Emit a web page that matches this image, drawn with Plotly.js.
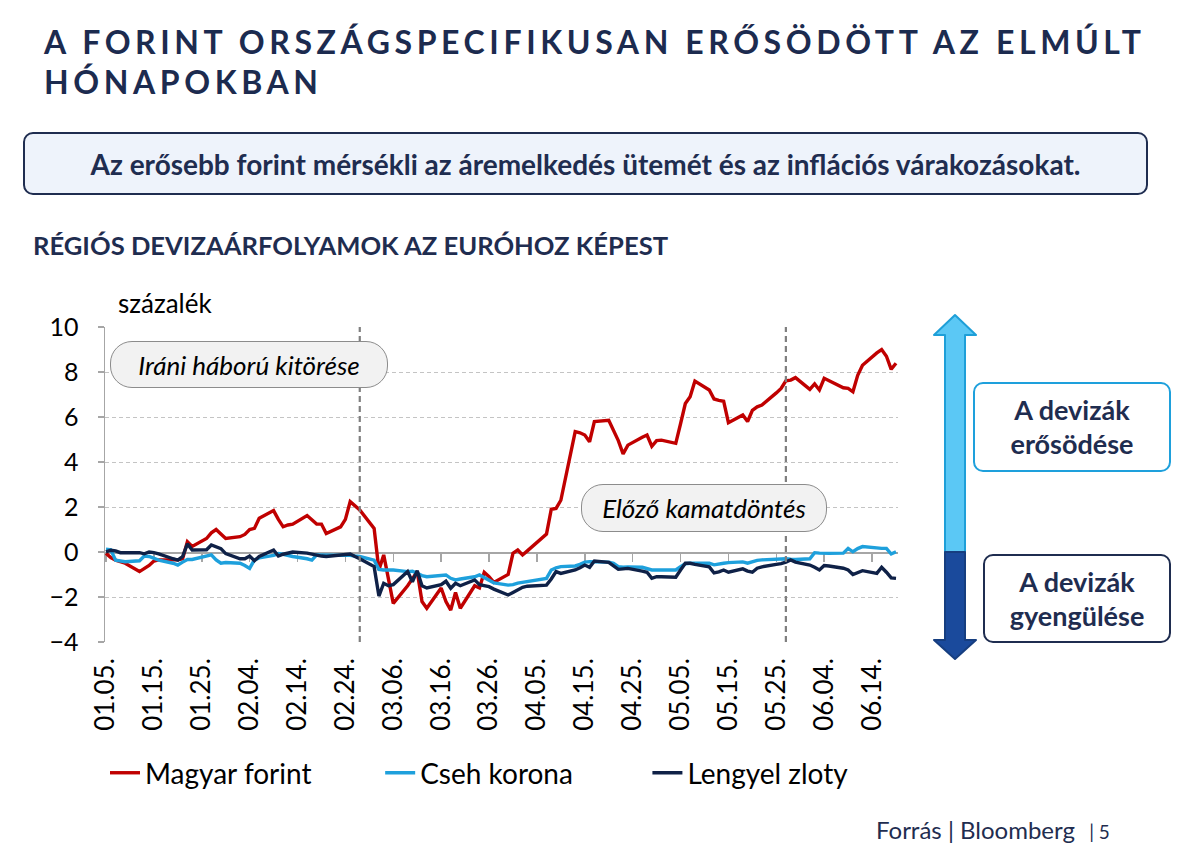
<!DOCTYPE html>
<html>
<head>
<meta charset="utf-8">
<script src="https://cdn.plot.ly/plotly-3.0.1.min.js"></script>
<style>
  html, body { margin: 0; padding: 0; background: #ffffff; }
  body { position: relative; width: 1180px; height: 865px; overflow: hidden; font-family: Lato, "Open Sans", sans-serif; }
  #chart { position: absolute; left: 0; top: 0; width: 1180px; height: 865px; }
  .ov { position: absolute; z-index: 5; box-sizing: border-box; }
  #title { left: 44px; top: 22px; font-weight: 700; font-size: 32px; letter-spacing: 4.6px; line-height: 40px; color: #1c2b4f; white-space: nowrap; }
  #lead { left: 23px; top: 132px; width: 1125px; height: 63px; border: 2px solid #1f2d50; border-radius: 10px; background: #eef3fb;
          display: flex; align-items: center; justify-content: center; font-weight: 700; font-size: 28px; color: #1f2d50; white-space: nowrap; }
  #heading { left: 33px; top: 230px; font-weight: 700; font-size: 25.6px; color: #1f2d50; white-space: nowrap; }
  #unit { left: 118px; top: 287px; font-size: 26px; color: #000; }
  .bubble { background: #f2f2f2; border: 1.5px solid #8c8c8c; border-radius: 22px; display: flex; align-items: center; justify-content: center;
            font-style: italic; font-size: 26px; color: #000; white-space: nowrap; }
  #b1 { left: 110px; top: 341px; width: 278px; height: 47px; }
  #b2 { left: 581px; top: 484px; width: 246px; height: 48px; }
  .side { background: #fff; border-radius: 10px; display: flex; align-items: center; justify-content: center; text-align: center;
          font-weight: 700; font-size: 27px; line-height: 34px; color: #1f2d50; }
  #up { left: 973px; top: 382px; width: 198px; height: 90px; border: 2.5px solid #1ea0dc; }
  #down { left: 983px; top: 554px; width: 188px; height: 89px; border: 2.5px solid #1f2d50; }
  #arrow { left: 0; top: 0; width: 1180px; height: 865px; pointer-events: none; }
  #source { left: 876px; top: 815px; font-size: 24px; color: #1f2d50; white-space: nowrap; }
  #source span { font-size: 19px; margin-left: 8px; }
</style>
</head>
<body>
<div id="chart"></div>

<div class="ov" id="title">A FORINT ORSZÁGSPECIFIKUSAN ERŐSÖDÖTT AZ ELMÚLT<br>HÓNAPOKBAN</div>
<div class="ov" id="lead">Az erősebb forint mérsékli az áremelkedés ütemét és az inflációs várakozásokat.</div>
<div class="ov" id="heading">RÉGIÓS DEVIZAÁRFOLYAMOK AZ EURÓHOZ KÉPEST</div>
<div class="ov" id="unit">százalék</div>
<div class="ov bubble" id="b1">Iráni háború kitörése</div>
<div class="ov bubble" id="b2">Előző kamatdöntés</div>

<svg class="ov" id="arrow" viewBox="0 0 1180 865">
  <polygon points="955,315 976,335 965,335 965,552 945,552 945,335 934,335" fill="#5bc8f5" stroke="#1e9fd8" stroke-width="2" stroke-linejoin="round"/>
  <polygon points="945,552 965,552 965,640 976,640 955,659 934,640 945,640" fill="#1a4a9c" stroke="#163e80" stroke-width="2" stroke-linejoin="round"/>
</svg>
<div class="ov side" id="up">A devizák<br>erősödése</div>
<div class="ov side" id="down">A devizák<br>gyengülése</div>

<div class="ov" id="source">Forrás | Bloomberg <span>| 5</span></div>

<script>
// Exchange rates of regional currencies against the euro, % change since the start of the year
// (positive = currency strengthening). Daily (business day) observations, 5 Jan – 19 Jun 2026.
const firstDay = '2026-01-05';
const numDays = 120;

const hufValues = [
  -0.06, -0.25, -0.36, -0.45, -0.5,
  -0.87, -0.72, -0.6, -0.4, -0.35,
  -0.35, -0.35, -0.3, 0.46, 0.25,
  0.6, 0.85, 1.0, 0.8, 0.6,
  0.68, 0.78, 1.0, 1.05, 1.5,
  1.84, 1.45, 1.12, 1.2, 1.24,
  1.62, 1.45, 1.24, 1.24, 0.82,
  1.12, 1.45, 2.24, 2.05, 1.87,
  1.05, -0.8, -0.13, -1.2, -2.28,
  -1.5, -1.2, -0.87, -2.2, -2.5,
  -1.6, -2.2, -2.58, -1.8, -2.5,
  -1.5, -1.6, -0.9, -1.1, -1.35,
  -1.0, -0.06, 0.09, -0.13, 0.05,
  0.62, 0.8, 1.9, 1.94, 2.3,
  5.35, 5.3, 5.2, 4.9, 5.8,
  5.85, 5.4, 4.95, 4.36, 4.75,
  5.1, 5.2, 4.7, 4.95, 4.97,
  4.83, 5.7, 6.6, 6.9, 7.6,
  7.2, 6.8, 6.74, 6.7, 5.75,
  6.09, 5.8, 6.3, 6.45, 6.53,
  7.07, 7.27, 7.61, 7.64, 7.75,
  7.23, 7.47, 7.2, 7.72, 7.62,
  7.3, 7.27, 7.12, 7.85, 8.3,
  8.85, 9.0, 8.7, 8.12, 8.39
];

const czkValues = [
  0.12, 0.1, -0.36, -0.4, -0.43,
  -0.39, -0.18, -0.2, -0.3, -0.36,
  -0.5, -0.58, -0.45, -0.33, -0.33,
  -0.2, -0.13, -0.35, -0.5, -0.47,
  -0.5, -0.6, -0.73, -0.35, -0.26,
  -0.15, -0.07, -0.1, -0.15, -0.2,
  -0.3, -0.36, -0.13, -0.13, -0.13,
  -0.13, -0.13, -0.15, -0.18, -0.2,
  -0.36, -0.77, -0.8, -0.8, -0.8,
  -0.87, -0.85, -0.95, -1.05, -1.1,
  -1.05, -1.02, -1.17, -1.24, -1.2,
  -1.1, -1.02, -1.15, -1.25, -1.37,
  -1.47, -1.45, -1.38, -1.35, -1.3,
  -1.2, -1.17, -0.8, -0.7, -0.65,
  -0.62, -0.55, -0.45, -0.43, -0.43,
  -0.45, -0.5, -0.65, -0.68, -0.66,
  -0.68, -0.75, -0.8, -0.8, -0.8,
  -0.8, -0.65, -0.52, -0.5, -0.5,
  -0.5, -0.57, -0.52, -0.5, -0.47,
  -0.44, -0.5, -0.42, -0.37, -0.35,
  -0.3, -0.28, -0.3, -0.32, -0.33,
  -0.3, -0.03, -0.05, -0.06, -0.06,
  -0.05, 0.16, 0.01, 0.15, 0.24,
  0.16, 0.16, 0.16, -0.09, 0.01
];

const plnValues = [
  0.01, 0.08, 0.05, -0.03, -0.03,
  -0.03, -0.08, 0.0, -0.03, -0.08,
  -0.3, -0.36, -0.2, 0.36, 0.09,
  0.1, 0.31, 0.22, 0.15, -0.07,
  -0.3, -0.3, -0.18, -0.39, -0.2,
  0.09, -0.18, -0.1, -0.03, 0.0,
  -0.05, -0.1, -0.15, -0.18, -0.2,
  -0.12, -0.09, -0.09, -0.2, -0.3,
  -0.65, -1.96, -1.39, -1.5, -1.45,
  -0.87, -1.32, -0.83, -1.5, -1.6,
  -1.45, -1.3, -1.61, -1.39, -1.5,
  -1.24, -1.45, -1.5, -1.54, -1.65,
  -1.91, -1.8, -1.7, -1.57, -1.52,
  -1.47, -1.47, -1.2, -0.87, -0.95,
  -0.8, -0.7, -0.58, -0.68, -0.4,
  -0.46, -0.6, -0.77, -0.75, -0.73,
  -0.85, -0.9, -1.17, -1.1, -1.1,
  -1.12, -0.8, -0.5, -0.5, -0.55,
  -0.66, -0.93, -0.88, -0.8, -0.9,
  -0.75, -0.85, -0.9, -0.72, -0.66,
  -0.55, -0.52, -0.45, -0.35, -0.45,
  -0.58, -0.68, -0.8, -0.6, -0.62,
  -0.72, -0.8, -1.0, -0.9, -0.83,
  -0.95, -0.68, -0.9, -1.15, -1.17
];

const seriesNames = ['Magyar forint', 'Cseh korona', 'Lengyel zloty'];
const seriesColors = ['#c00000', '#1ea0dc', '#0f2147'];

const tickDates = ['2026-01-05', '2026-01-15', '2026-01-25', '2026-02-04', '2026-02-14', '2026-02-24',
                   '2026-03-06', '2026-03-16', '2026-03-26', '2026-04-05', '2026-04-15', '2026-04-25',
                   '2026-05-05', '2026-05-15', '2026-05-25', '2026-06-04', '2026-06-14'];
const tickLabels = ['01.05.', '01.15.', '01.25.', '02.04.', '02.14.', '02.24.',
                    '03.06.', '03.16.', '03.26.', '04.05.', '04.15.', '04.25.',
                    '05.05.', '05.15.', '05.25.', '06.04.', '06.14.'];

// Outbreak of the Iran war and the previous rate decision
const eventDates = ['2026-02-27', '2026-05-27'];

// Business-day calendar for the observations
function businessDays(start, count) {
  const out = [];
  const d = new Date(start + 'T00:00:00Z');
  while (out.length < count) {
    const wd = d.getUTCDay();
    if (wd !== 0 && wd !== 6) out.push(d.toISOString().slice(0, 10));
    d.setUTCDate(d.getUTCDate() + 1);
  }
  return out;
}
const dates = businessDays(firstDay, numDays);

const xRange = ['2026-01-04 19:00', '2026-06-19 10:00'];
const font = 'Lato, "Open Sans", sans-serif';

// one legend per series, laid out side by side under the axis labels
const legendIds = ['legend', 'legend2', 'legend3'];
const legendX = [0, 0.347, 0.684];

const traces = [hufValues, czkValues, plnValues].map((vals, i) => ({
  type: 'scatter', mode: 'lines',
  x: dates, y: vals, name: seriesNames[i], legend: legendIds[i],
  line: { color: seriesColors[i], width: 3.4 },
  hoverinfo: 'skip'
}));
// empty companion trace so the bottom label axis has its own subplot
traces.push({ type: 'scatter', x: [], y: [], xaxis: 'x2', yaxis: 'y', showlegend: false, hoverinfo: 'skip' });

const shapes = eventDates.map(d => ({
  type: 'line', xref: 'x', yref: 'paper', x0: d, x1: d, y0: 0, y1: 1,
  line: { color: '#7f7f7f', width: 2.2, dash: '6px,4px' }, layer: 'above'
}));

const layout = {
  width: 1180, height: 865,
  margin: { l: 105, r: 282, t: 327, b: 223 },
  paper_bgcolor: '#ffffff', plot_bgcolor: '#ffffff',
  font: { family: font, color: '#000000' },
  showlegend: true,
  xaxis: {
    type: 'date', range: xRange, anchor: 'free', position: 4 / 14,
    showline: true, linecolor: '#a6a6a6', linewidth: 1.5,
    ticks: 'outside', ticklen: 8, tickwidth: 1.5, tickcolor: '#a6a6a6',
    tickmode: 'array', tickvals: tickDates, showticklabels: false,
    showgrid: false, zeroline: false, layer: 'below traces', fixedrange: true
  },
  xaxis2: {
    type: 'date', range: xRange, overlaying: 'x', anchor: 'y', side: 'bottom',
    tickmode: 'array', tickvals: tickDates, ticktext: tickLabels, tickangle: -90,
    tickfont: { size: 26, color: '#000000' }, ticks: '', ticklabelstandoff: 10,
    showline: false, showgrid: false, zeroline: false, fixedrange: true
  },
  yaxis: {
    range: [-4, 10], tickmode: 'linear', tick0: -4, dtick: 2,
    showgrid: true, gridcolor: '#c4c4c4', gridwidth: 1, griddash: '4px,3px',
    showline: true, linecolor: '#a6a6a6', linewidth: 1.5,
    ticks: 'outside', ticklen: 6, tickwidth: 1.5, tickcolor: '#a6a6a6',
    tickfont: { size: 25, color: '#000000' }, ticklabelstandoff: 14,
    zeroline: false, fixedrange: true
  },
  shapes: shapes
};

legendIds.forEach((id, i) => {
  layout[id] = {
    orientation: 'h', x: legendX[i], xanchor: 'left', y: -0.416, yanchor: 'middle',
    font: { size: 28, color: '#000000' }, bgcolor: 'rgba(0,0,0,0)'
  };
});

Plotly.newPlot('chart', traces, layout, { displayModeBar: false, staticPlot: true });
</script>
</body>
</html>
